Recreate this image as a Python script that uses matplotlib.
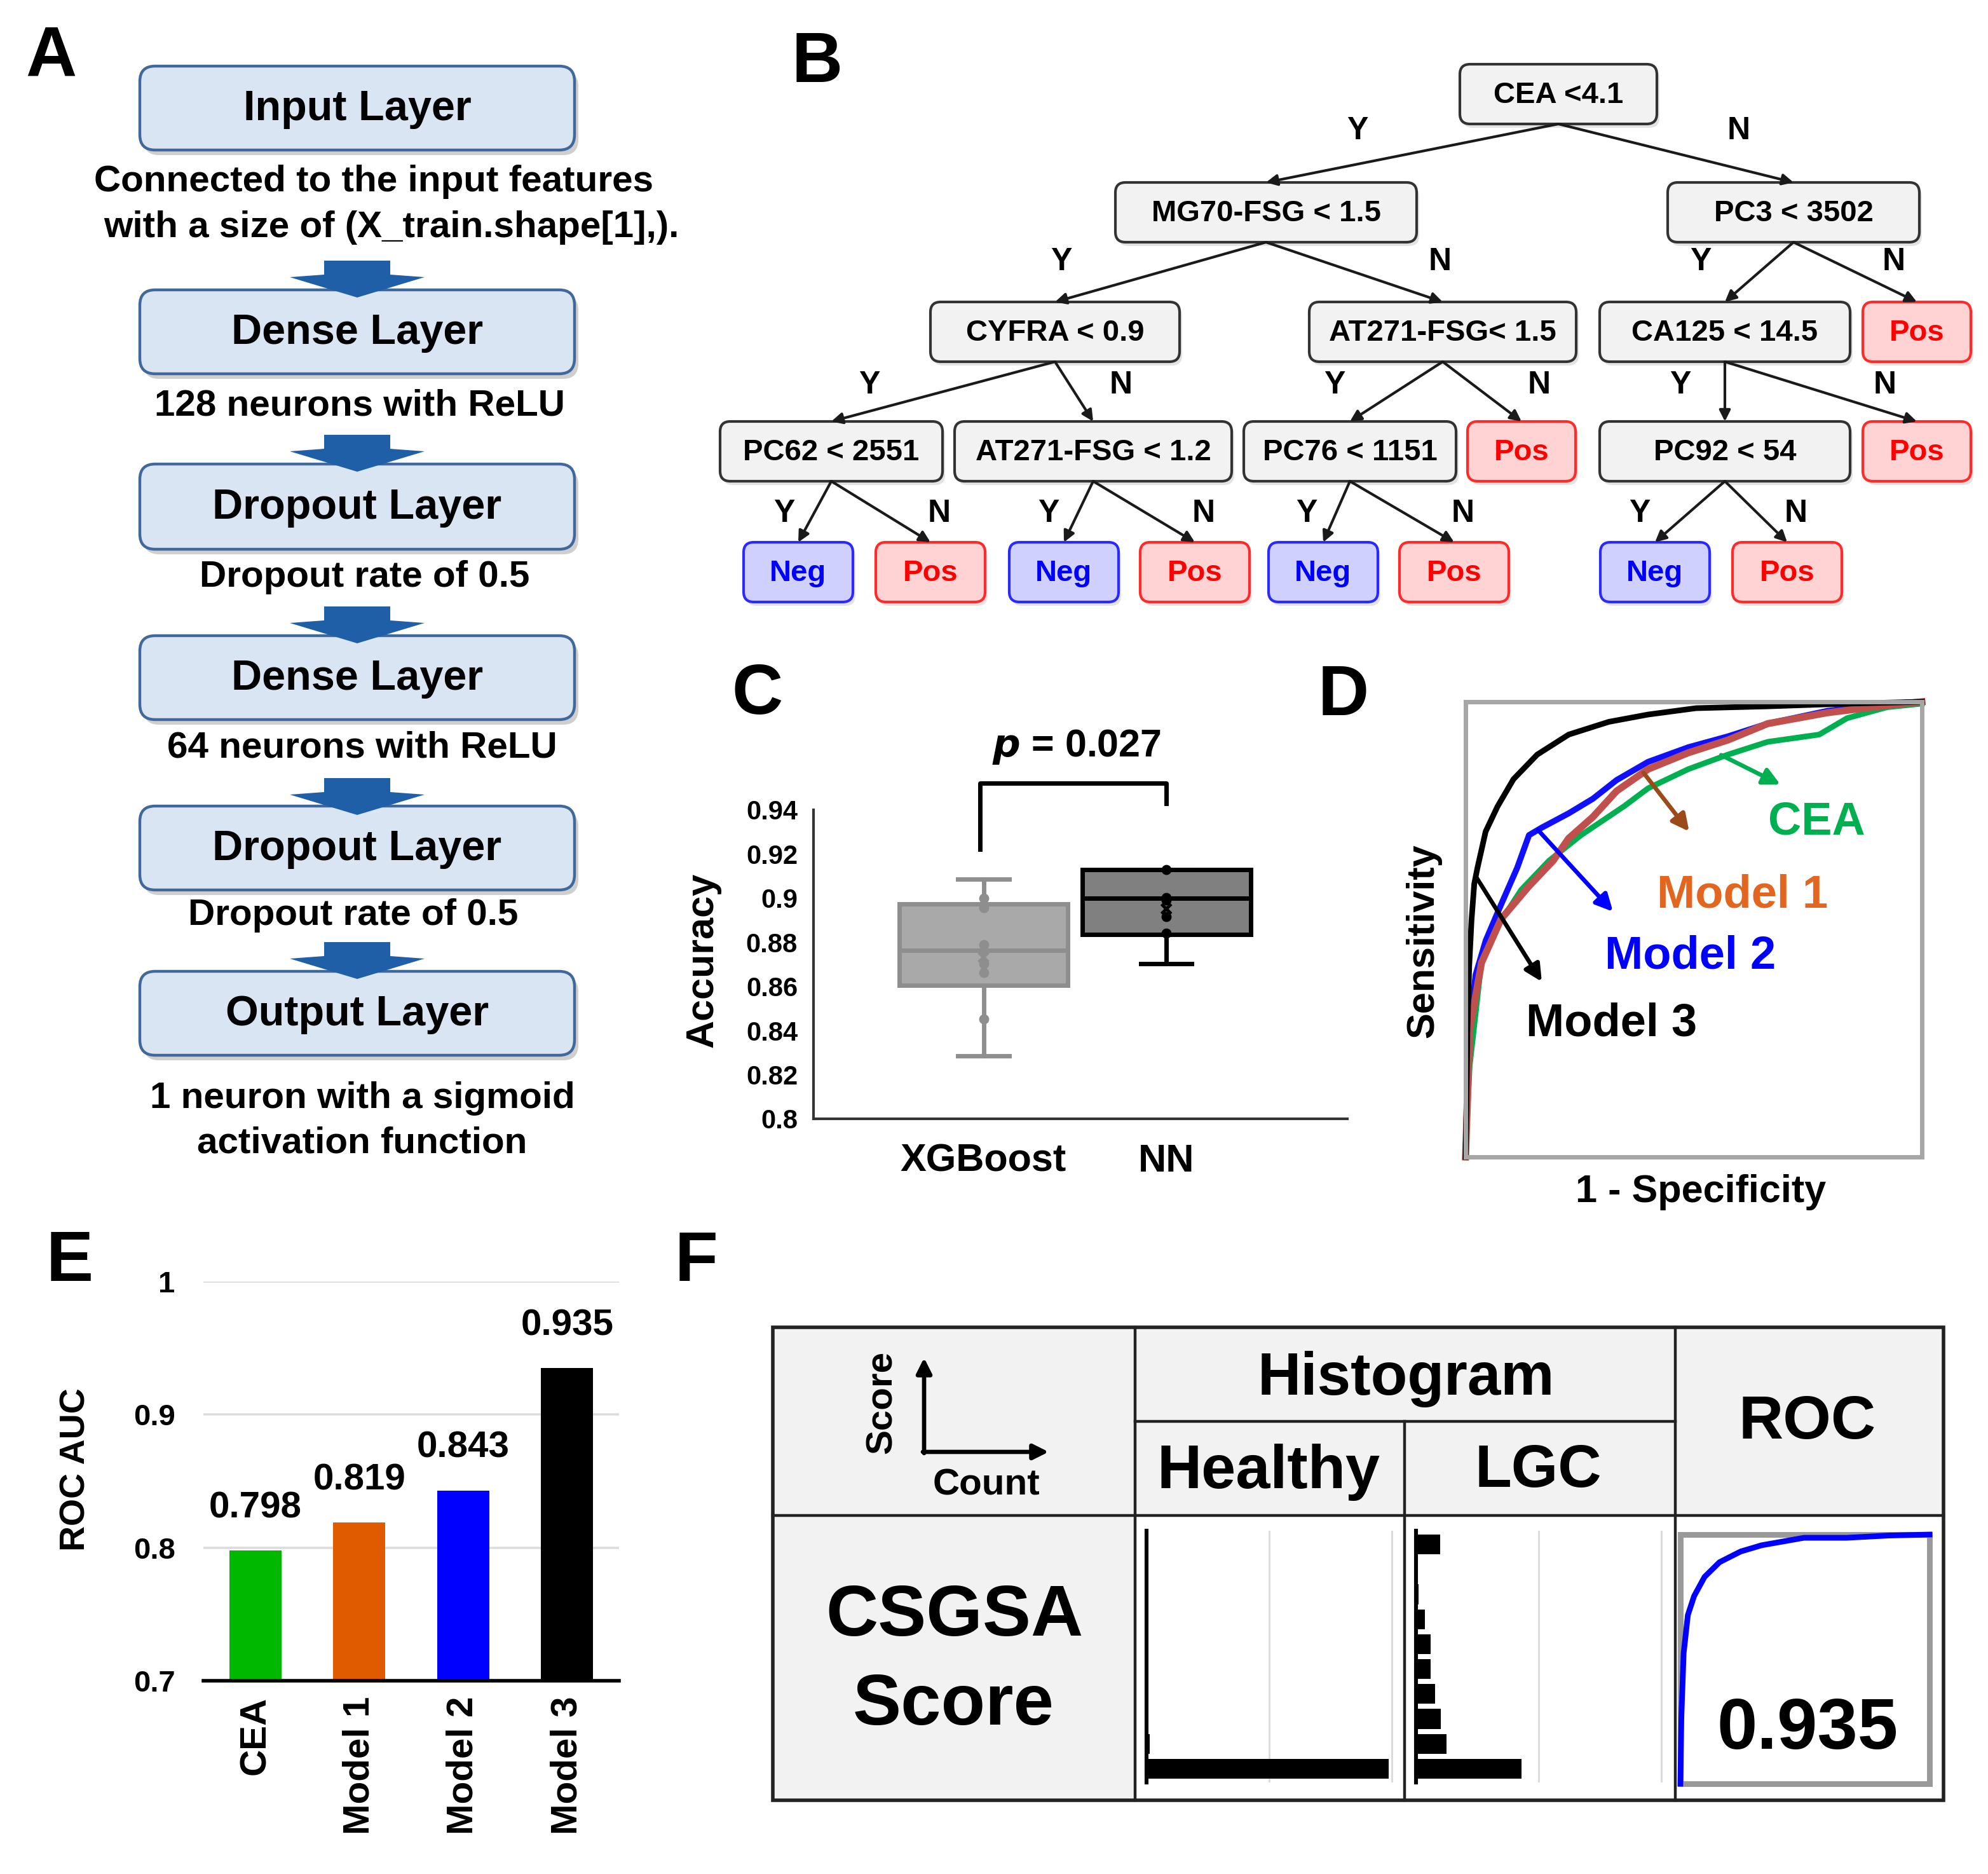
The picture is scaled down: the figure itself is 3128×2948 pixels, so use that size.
import numpy as np
import matplotlib.pyplot as plt
from matplotlib.patches import FancyBboxPatch, FancyArrowPatch, Polygon, Rectangle
from matplotlib.ticker import FuncFormatter

plt.rcParams['font.family'] = ['Liberation Sans', 'DejaVu Sans']
plt.rcParams['font.weight'] = 'bold'
plt.rcParams['axes.labelweight'] = 'bold'

# ---------------- data ----------------
# A: network layers
layer_names = ["Input Layer", "Dense Layer", "Dropout Layer", "Dense Layer", "Dropout Layer", "Output Layer"]
layer_notes = ["Connected to the input features", "with a size of (X_train.shape[1],).",
               "128 neurons with ReLU", "Dropout rate of 0.5", "64 neurons with ReLU",
               "Dropout rate of 0.5", "1 neuron with a sigmoid", "activation function"]

# B: decision tree
node_text = ["CEA <4.1", "MG70-FSG < 1.5", "PC3 < 3502", "CYFRA < 0.9", "AT271-FSG< 1.5",
             "CA125 < 14.5", "Pos", "PC62 < 2551", "AT271-FSG < 1.2", "PC76 < 1151", "Pos",
             "PC92 < 54", "Pos", "Neg", "Pos", "Neg", "Pos", "Neg", "Pos", "Neg", "Pos"]
node_kind = ["n", "n", "n", "n", "n", "n", "p", "n", "n", "n", "p", "n", "p",
             "g", "p", "g", "p", "g", "p", "g", "p"]
edge_from = [0, 0, 1, 1, 2, 2, 3, 3, 4, 4, 5, 5, 7, 7, 8, 8, 9, 9, 11, 11]
edge_to = [1, 2, 3, 4, 5, 6, 7, 8, 9, 10, 11, 12, 13, 14, 15, 16, 17, 18, 19, 20]
edge_lab = ["Y", "N"] * 10

# C: accuracy box plots
box_names = ["XGBoost", "NN"]
box_med = [0.8764, 0.9001]
box_q1 = [0.8605, 0.8836]
box_q3 = [0.8975, 0.9129]
box_lo = [0.8284, 0.8704]
box_hi = [0.9085, 0.9129]
xgb_pts = [0.8999, 0.8957, 0.879, 0.876, 0.8703, 0.8663, 0.8451]
nn_pts = [0.9129, 0.9003, 0.899, 0.8917, 0.8841]
box_mean = [0.8732, 0.8951]
p_text = "0.027"

# D: ROC curves
fpr_cea = [0, 0.003, 0.009, 0.035, 0.07, 0.122, 0.183, 0.253, 0.348, 0.40, 0.488, 0.575, 0.662, 0.775, 0.836, 0.923, 1.0]
tpr_cea = [0, 0.08, 0.20, 0.43, 0.507, 0.587, 0.651, 0.707, 0.771, 0.81, 0.852, 0.884, 0.912, 0.928, 0.964, 0.988, 0.996]
fpr_m1 = [0, 0.004, 0.009, 0.035, 0.078, 0.139, 0.192, 0.226, 0.279, 0.331, 0.40, 0.488, 0.575, 0.662, 0.793, 0.923, 1.0]
tpr_m1 = [0, 0.12, 0.28, 0.427, 0.523, 0.595, 0.651, 0.70, 0.747, 0.804, 0.852, 0.888, 0.916, 0.952, 0.976, 0.992, 1.0]
fpr_m2 = [0, 0.004, 0.009, 0.022, 0.044, 0.078, 0.113, 0.139, 0.166, 0.226, 0.279, 0.331, 0.40, 0.488, 0.575, 0.662, 0.793, 0.923, 1.0]
tpr_m2 = [0, 0.15, 0.28, 0.40, 0.475, 0.555, 0.635, 0.707, 0.723, 0.755, 0.787, 0.828, 0.868, 0.90, 0.924, 0.952, 0.98, 0.996, 1.0]
fpr_m3 = [0, 0.002, 0.004, 0.008, 0.013, 0.019, 0.026, 0.044, 0.07, 0.105, 0.157, 0.226, 0.314, 0.40, 0.505, 0.66, 0.836, 1.0]
tpr_m3 = [0, 0.12, 0.28, 0.42, 0.52, 0.60, 0.635, 0.715, 0.77, 0.83, 0.884, 0.928, 0.956, 0.972, 0.986, 0.99, 0.996, 1.0]

# E: AUC bars
auc_names = ["CEA", "Model 1", "Model 2", "Model 3"]
auc_vals = [0.798, 0.819, 0.843, 0.935]
auc_colors = ["#00b800", "#e05a00", "#0000ff", "#000000"]

# F: CSGSA score histograms (bins from low score to high score) and ROC
healthy_counts = [197, 2.5, 0, 0, 0, 0, 0, 0, 0, 0]
lgc_counts = [86, 25, 20, 15.5, 12, 12, 7, 2, 0, 19.7]
fpr_f = [0, 0.004, 0.013, 0.03, 0.055, 0.097, 0.157, 0.242, 0.326, 0.496, 0.666, 0.835, 1.0]
tpr_f = [0, 0.268, 0.523, 0.677, 0.753, 0.83, 0.889, 0.932, 0.957, 0.987, 0.987, 0.996, 1.0]
auc_f = "0.935"

# ---------------- figure ----------------
W, H = 1564, 1474
fig = plt.figure(figsize=(W / 100, H / 100), dpi=200)
ov = fig.add_axes([0, 0, 1, 1], zorder=0)
ov.set_xlim(0, W)
ov.set_ylim(H, 0)
ov.axis('off')


def place(x0, y0, x1, y1):
    return fig.add_axes([x0 / W, 1 - y1 / H, (x1 - x0) / W, (y1 - y0) / H], zorder=2)


for lab, x, y in [("A", 40, 45), ("B", 643, 50), ("C", 596, 547), ("D", 1057, 548), ("E", 55, 993), ("F", 548, 993)]:
    ov.text(x, y, lab, fontsize=40, ha='center', va='center')

# ---------------- A ----------------
box_y = [(52, 118), (228, 294), (365, 432), (500, 566), (634, 700), (764, 830)]
for name, (y0, y1) in zip(layer_names, box_y):
    ov.add_patch(FancyBboxPatch((113, y0 + 4), 342, y1 - y0, boxstyle='round,pad=0,rounding_size=12',
                                fc='#a8a8a8', ec='none', alpha=0.55))
    ov.add_patch(FancyBboxPatch((110, y0), 342, y1 - y0, boxstyle='round,pad=0,rounding_size=12',
                                fc='#dae5f4', ec='#40689a', lw=1.6))
    ov.text(281, (y0 + y1) / 2 + 1, name, fontsize=24, ha='center', va='center')

note_pos = [(294, 143), (308, 179), (283, 319), (287, 454), (285, 588), (278, 720), (285, 864), (285, 899)]
for t, (x, y) in zip(layer_notes, note_pos):
    ov.text(x, y, t, fontsize=21, ha='center', va='center')

for t in [205, 342, 477, 612, 741]:
    c = 281
    ov.add_patch(Polygon([(c - 26, t), (c + 26, t), (c + 26, t + 11), (c + 53, t + 13), (c, t + 29),
                          (c - 53, t + 13), (c - 26, t + 11)], closed=True, fc='#1f5fa8', ec='none', zorder=5))

# ---------------- B ----------------
node_xy = [(1226, 74), (996, 167), (1411, 167), (830, 261), (1135, 261), (1357, 261), (1508, 261),
           (654, 355), (860, 355), (1062, 355), (1197, 355), (1357, 355), (1508, 355),
           (628, 450), (732, 450), (837, 450), (940, 450), (1041, 450), (1144, 450), (1302, 450), (1406, 450)]
node_w = [155, 237, 198, 196, 210, 197, 85, 175, 218, 167, 85, 197, 85, 86, 86, 86, 86, 86, 86, 86, 86]
nh = 47
styles = {"n": ('#f2f2f2', '#333333', 'black'), "p": ('#ffd3d3', '#ff2a2a', '#ff0000'),
          "g": ('#d0d0ff', '#2a2aff', '#0000ff')}
for t, k, (cx, cy), w in zip(node_text, node_kind, node_xy, node_w):
    fc, ec, tc = styles[k]
    ov.add_patch(FancyBboxPatch((cx - w / 2 + 2, cy - nh / 2 + 3), w, nh, boxstyle='round,pad=0,rounding_size=8',
                                fc='#c8c8c8', ec='none', alpha=0.5))
    ov.add_patch(FancyBboxPatch((cx - w / 2, cy - nh / 2), w, nh, boxstyle='round,pad=0,rounding_size=8',
                                fc=fc, ec=ec, lw=1.5))
    ov.text(cx, cy + 1, t, fontsize=17, ha='center', va='center', color=tc)

lab_pos = [(1068, 103), (1368, 103), (835, 206), (1133, 206), (1338, 206), (1490, 206),
           (684, 303), (882, 303), (1050, 303), (1211, 303), (1322, 303), (1483, 303),
           (617, 404), (739, 404), (825, 404), (947, 404), (1028, 404), (1151, 404), (1290, 404), (1413, 404)]
for a, b, lab, (lx, ly) in zip(edge_from, edge_to, edge_lab, lab_pos):
    pa = (node_xy[a][0], node_xy[a][1] + nh / 2)
    pb = (node_xy[b][0], node_xy[b][1] - nh / 2)
    ov.add_patch(FancyArrowPatch(pa, pb, arrowstyle='-|>', mutation_scale=13, lw=1.5, color='#1a1a1a',
                                 shrinkA=0, shrinkB=0, zorder=4))
    ov.text(lx, ly, lab, fontsize=18, ha='center', va='center')

# ---------------- C ----------------
axc = place(640, 637, 1060, 880)
stats = [dict(med=m, q1=a, q3=b, whislo=lo, whishi=hi, fliers=[])
         for m, a, b, lo, hi in zip(box_med, box_q1, box_q3, box_lo, box_hi)]
bp = axc.bxp(stats, positions=[1, 2], widths=0.92, patch_artist=True, showfliers=False, capwidths=0.28)
cols_fc = ['#a9a9a9', '#808080']
cols_ec = ['#8e8e8e', '#000000']
for i in range(2):
    bp['boxes'][i].set(facecolor=cols_fc[i], edgecolor=cols_ec[i], linewidth=2.5)
    bp['medians'][i].set(color=cols_ec[i], linewidth=2.5)
    for j in (2 * i, 2 * i + 1):
        bp['whiskers'][j].set(color=cols_ec[i], linewidth=2.5)
        bp['caps'][j].set(color=cols_ec[i], linewidth=2.5)
axc.scatter([1] * len(xgb_pts), xgb_pts, s=22, color='#8e8e8e', zorder=4)
axc.scatter([2] * len(nn_pts), nn_pts, s=22, color='black', zorder=4)
axc.scatter([1, 2], box_mean, s=30, marker='x', color=['#8e8e8e', 'black'], linewidths=1.8, zorder=4)
axc.set_xlim(0.07, 2.99)
axc.set_ylim(0.8, 0.94)
axc.set_yticks(np.arange(0.8, 0.9401, 0.02))
axc.yaxis.set_major_formatter(FuncFormatter(lambda v, p: f"{round(v, 2):g}"))
axc.set_xticks([1, 2])
axc.set_xticklabels(box_names, fontsize=22)
axc.tick_params(axis='y', length=0, labelsize=15, pad=9)
axc.tick_params(axis='x', length=0, pad=14)
for s in ['top', 'right']:
    axc.spines[s].set_visible(False)
for s in ['left', 'bottom']:
    axc.spines[s].set(color='#333333', linewidth=1.5)
axc.set_ylabel("Accuracy", fontsize=22, va='center')
axc.yaxis.set_label_coords(-87 / 420, 0.514)
axc.plot([0.98, 0.98, 2.0, 2.0], [0.9222, 0.952, 0.952, 0.943], color='black', lw=2.5, clip_on=False)
axc.text(1.51, 0.9685, r"$\bfit{p}$ = " + p_text, fontsize=22, ha='center', va='center')

# ---------------- D ----------------
axd = place(1153, 552, 1512, 910)
axd.plot(fpr_cea, tpr_cea, color='#00b050', lw=3.2, clip_on=False)
axd.plot(fpr_m2, tpr_m2, color='#1010ff', lw=3.4, clip_on=False)
axd.plot(fpr_m1, tpr_m1, color='#c0504d', lw=4.0, clip_on=False)
axd.plot(fpr_m3, tpr_m3, color='black', lw=3.2, clip_on=False)
axd.set_xlim(0, 1)
axd.set_ylim(0, 1)
axd.set_xticks([])
axd.set_yticks([])
for s in axd.spines.values():
    s.set(color='#a6a6a6', linewidth=2.5)
axd.set_ylabel("Sensitivity", fontsize=22, va='center')
axd.yaxis.set_label_coords(-33 / 359, 0.475)
axd.set_xlabel("1 - Specificity", fontsize=22, va='center')
axd.xaxis.set_label_coords(0.515, -28 / 358)
ann = [("CEA", '#00b050', '#00b050', (0.56, 0.883), (0.69, 0.818), (0.769, 0.735)),
       ("Model 1", '#e2661f', '#9c4a1a', (0.39, 0.844), (0.49, 0.715), (0.607, 0.575)),
       ("Model 2", '#0000ff', '#0000ff', (0.159, 0.718), (0.323, 0.539), (0.493, 0.441)),
       ("Model 3", 'black', 'black', (0.022, 0.617), (0.167, 0.385), (0.32, 0.293))]
for t, tc, ac, p0, p1, tp in ann:
    axd.annotate('', xy=p1, xytext=p0, arrowprops=dict(arrowstyle='-|>', color=ac, lw=2.4, mutation_scale=20,
                                                       shrinkA=0, shrinkB=0))
    axd.text(tp[0], tp[1], t, color=tc, fontsize=26, ha='center', va='center')

# ---------------- E ----------------
axe = place(160, 1008, 487, 1322)
xpos = np.arange(len(auc_vals))
axe.bar(xpos, auc_vals, width=0.5, color=auc_colors, zorder=3)
for x, v in zip(xpos, auc_vals):
    axe.annotate(f"{v:.3f}", (x, v), xytext=(0, 24), textcoords='offset points', ha='center', va='center',
                 fontsize=21, annotation_clip=False)
axe.set_xlim(-0.5, 3.5)
axe.set_ylim(0.7, 1.0)
axe.set_yticks([0.7, 0.8, 0.9, 1.0])
axe.yaxis.set_major_formatter(FuncFormatter(lambda v, p: f"{round(v, 1):g}"))
axe.yaxis.grid(True, color='#dcdcdc', lw=1.3)
axe.set_axisbelow(True)
axe.set_xticks(xpos)
axe.set_xticklabels(auc_names, rotation=90, fontsize=21)
axe.tick_params(axis='y', length=0, labelsize=17, pad=16)
axe.tick_params(axis='x', length=0, pad=9)
for s in ['top', 'right', 'left']:
    axe.spines[s].set_visible(False)
axe.spines['bottom'].set(color='black', linewidth=2, zorder=4)
axe.set_ylabel("ROC AUC", fontsize=20, va='center')
axe.yaxis.set_label_coords(-100 / 327, 0.53)

# ---------------- F ----------------
cx_ = [608, 893, 1105, 1318, 1529]
ry_ = [1044, 1118, 1192, 1416]
ov.add_patch(Rectangle((cx_[0], ry_[0]), cx_[4] - cx_[0], ry_[2] - ry_[0], fc='#f2f2f2', ec='none'))
ov.add_patch(Rectangle((cx_[0], ry_[2]), cx_[1] - cx_[0], ry_[3] - ry_[2], fc='#f2f2f2', ec='none'))
ov.add_patch(Rectangle((cx_[0], ry_[0]), cx_[4] - cx_[0], ry_[3] - ry_[0], fc='none', ec='#222222', lw=2))
ov.plot([cx_[0], cx_[4]], [ry_[2], ry_[2]], color='#222222', lw=1.6)
ov.plot([cx_[1], cx_[3]], [ry_[1], ry_[1]], color='#222222', lw=1.6)
for x in (cx_[1], cx_[3]):
    ov.plot([x, x], [ry_[0], ry_[3]], color='#222222', lw=1.6)
ov.plot([cx_[2], cx_[2]], [ry_[1], ry_[3]], color='#222222', lw=1.6)
ov.text(1106, 1085, "Histogram", fontsize=34, ha='center', va='center')
ov.text(998, 1158, "Healthy", fontsize=35, ha='center', va='center')
ov.text(1210, 1157, "LGC", fontsize=34, ha='center', va='center')
ov.text(1422, 1119, "ROC", fontsize=35, ha='center', va='center')
ov.text(751, 1272, "CSGSA", fontsize=41, ha='center', va='center')
ov.text(750, 1342, "Score", fontsize=41, ha='center', va='center')
ov.annotate('', xy=(727, 1068), xytext=(727, 1143),
            arrowprops=dict(arrowstyle='-|>', color='black', lw=2.4, mutation_scale=18, shrinkA=0, shrinkB=0))
ov.annotate('', xy=(825, 1142), xytext=(726, 1142),
            arrowprops=dict(arrowstyle='-|>', color='black', lw=2.4, mutation_scale=18, shrinkA=0, shrinkB=0))
ov.text(694, 1103, "Score", fontsize=21, rotation=90, ha='center', va='center')
ov.text(776, 1168, "Count", fontsize=21, ha='center', va='center')

bins = np.arange(len(healthy_counts))
for counts, (x0, x1) in [(healthy_counts, (902, 1100)), (lgc_counts, (1114, 1312))]:
    axh = place(x0, 1204, x1, 1402)
    axh.set_facecolor('none')
    axh.barh(bins, counts, height=0.8, color='black', zorder=3)
    axh.set_xlim(0, 205)
    axh.set_ylim(-0.55, 9.55)
    axh.set_xticks([100, 200])
    axh.xaxis.grid(True, color='#d9d9d9', lw=1.0)
    axh.set_axisbelow(True)
    axh.set_yticks([])
    axh.tick_params(axis='x', length=0, labelbottom=False)
    for s in ['top', 'right', 'bottom']:
        axh.spines[s].set_visible(False)
    axh.spines['left'].set(color='black', linewidth=2.2, zorder=4)

axf = place(1322, 1207, 1518, 1403)
axf.set_facecolor('none')
axf.plot(fpr_f, tpr_f, color='#0000ff', lw=3.2, clip_on=False, zorder=3)
axf.set_xlim(0, 1)
axf.set_ylim(0, 1)
axf.set_xticks([])
axf.set_yticks([])
for s in axf.spines.values():
    s.set(color='#999999', linewidth=3.2)
axf.text(0.51, 0.214, auc_f, fontsize=41, ha='center', va='center', transform=axf.transAxes)

fig.savefig("out.png", dpi=200, facecolor='white')
